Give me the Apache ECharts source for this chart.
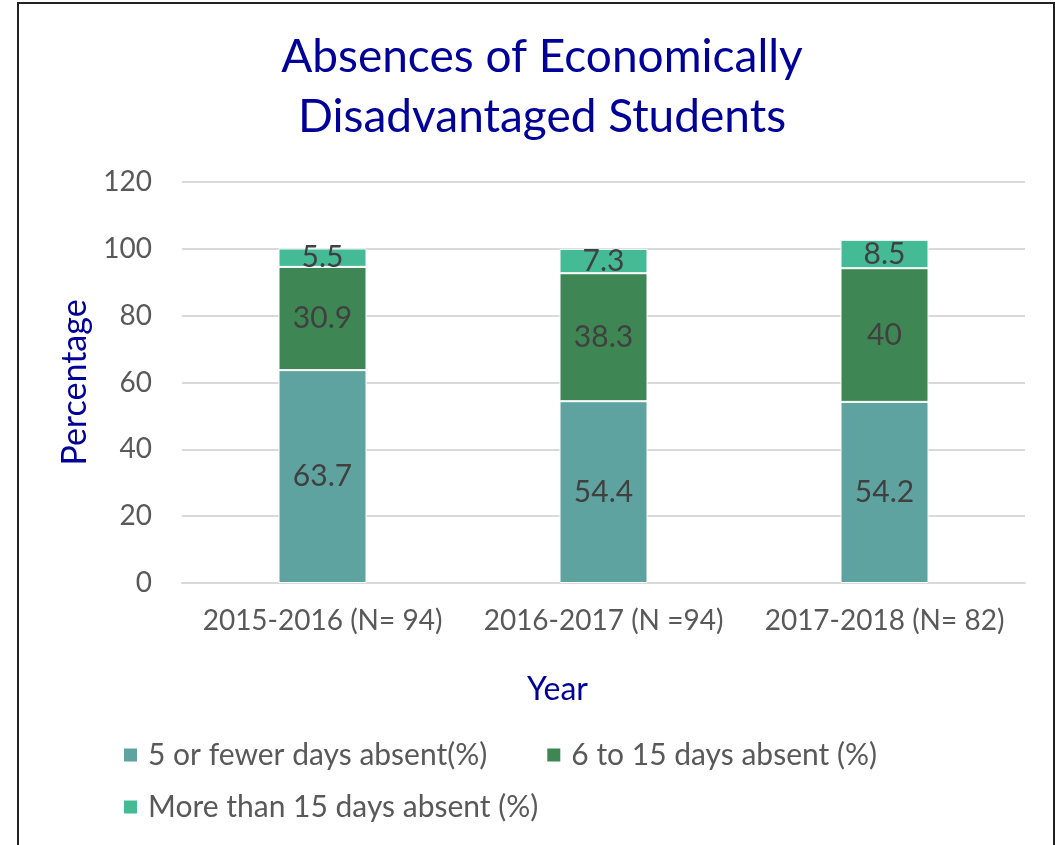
<!DOCTYPE html>
<html>
<head>
<meta charset="utf-8">
<script src="https://cdn.jsdelivr.net/npm/echarts@6/dist/echarts.min.js"></script>
<style>
  html, body { margin: 0; padding: 0; background: #fff; }
  #chart { width: 1055px; height: 845px; }
</style>
</head>
<body>
<div id="chart"></div>
<script>
var dom = document.getElementById("chart");
var myChart = echarts.init(dom);

var years = ['2015-2016 (N= 94)', '2016-2017 (N =94)', '2017-2018 (N= 82)'];
var seriesNames = ['5 or fewer days absent(%)', '6 to 15 days absent (%)', 'More than 15 days absent (%)'];
var fewDays = [63.7, 54.4, 54.2];
var midDays = [30.9, 38.3, 40];
var manyDays = [5.5, 7.3, 8.5];
var colors = ['#5fa3a1', '#3e8754', '#44bb94'];

var font = 'Lato';

function barSeries(name, values, color) {
    return {
        name: name,
        type: 'bar',
        stack: 'total',
        barWidth: 88,
        data: values,
        itemStyle: {
            color: color,
            borderColor: '#ffffff',
            borderWidth: 1
        },
        label: {
            show: true,
            position: 'inside',
            color: '#404040',
            fontSize: 30,
            fontFamily: font
        }
    };
}

option = {
    animation: false,
    textStyle: { fontFamily: font },
    color: colors,
    title: {
        text: 'Absences of Economically\nDisadvantaged Students',
        left: 537,
        textAlign: 'center',
        top: 22,
        textStyle: {
            color: '#000099',
            fontSize: 46,
            fontWeight: 'normal',
            lineHeight: 60,
            fontFamily: font
        }
    },
    graphic: [{
        type: 'rect',
        shape: { x: 18, y: 3, width: 1036, height: 900 },
        style: { fill: 'none', stroke: '#222', lineWidth: 2 },
        silent: true
    }],
    legend: [{
        data: [seriesNames[0], seriesNames[1]],
        left: 117,
        top: 735,
        icon: 'rect',
        itemWidth: 15,
        itemHeight: 15,
        itemGap: 58,
        textStyle: { color: '#595959', fontSize: 30, fontFamily: font, padding: [0, 0, 0, 5] }
    }, {
        data: [seriesNames[2]],
        left: 117,
        top: 787,
        icon: 'rect',
        itemWidth: 15,
        itemHeight: 15,
        textStyle: { color: '#595959', fontSize: 30, fontFamily: font, padding: [0, 0, 0, 5] }
    }],
    grid: {
        left: 182,
        right: 30,
        top: 182,
        bottom: 262
    },
    xAxis: {
        type: 'category',
        data: years,
        axisTick: { show: false },
        axisLine: { lineStyle: { color: '#d9d9d9', width: 2 } },
        axisLabel: { color: '#595959', fontSize: 28, margin: 24, interval: 0 },
        name: 'Year',
        nameLocation: 'middle',
        nameGap: 91,
        nameTextStyle: { color: '#000099', fontSize: 32, padding: [0, 92, 0, 0] }
    },
    yAxis: {
        type: 'value',
        min: 0,
        max: 120,
        interval: 20,
        axisLine: { show: false },
        axisTick: { show: false },
        splitLine: { lineStyle: { color: '#d9d9d9', width: 2 } },
        axisLabel: { color: '#595959', fontSize: 28, margin: 30 },
        name: 'Percentage',
        nameLocation: 'middle',
        nameGap: 88,
        nameTextStyle: { color: '#000099', fontSize: 34 }
    },
    series: [
        barSeries(seriesNames[0], fewDays, colors[0]),
        barSeries(seriesNames[1], midDays, colors[1]),
        barSeries(seriesNames[2], manyDays, colors[2])
    ]
};

if (option && typeof option === "object") {
    myChart.setOption(option, true);
}
</script>
</body>
</html>
